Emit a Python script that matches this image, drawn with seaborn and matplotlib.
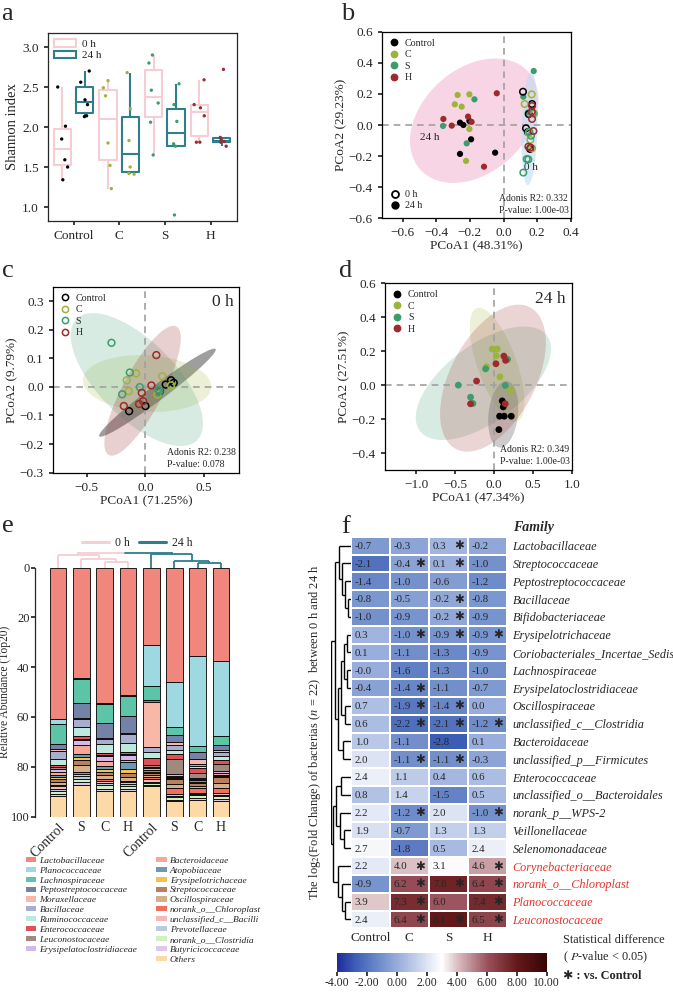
import numpy as np
import pandas as pd
import matplotlib
matplotlib.use("Agg")
import matplotlib.pyplot as plt
import seaborn as sns
from matplotlib.patches import Ellipse, Patch
from matplotlib.lines import Line2D
from matplotlib.colors import LinearSegmentedColormap
from matplotlib.ticker import FormatStrFormatter

groups = ["Control", "C", "S", "H"]
times = ["0 h", "24 h"]
group_colors = {"Control": "#000000", "C": "#9CB43A", "S": "#3C9C6E", "H": "#9E2A2B"}
time_colors = {"0 h": "#F7CDD4", "24 h": "#2E7E8C"}

# --- a: Shannon index (6 samples per group / time)
shannon_0h = {
    "Control": [2.50, 2.01, 1.85, 1.59, 1.50, 1.34],
    "C": [2.58, 2.49, 2.39, 1.80, 1.52, 1.23],
    "S": [2.90, 2.80, 2.46, 2.30, 2.06, 1.65],
    "H": [2.59, 2.28, 2.24, 2.14, 1.81, 1.81],
}
shannon_24h = {
    "Control": [2.70, 2.56, 2.34, 2.28, 2.14, 2.13],
    "C": [2.68, 2.23, 1.83, 1.50, 1.42, 1.41],
    "S": [2.54, 2.28, 2.07, 1.79, 1.76, 0.90],
    "H": [2.72, 1.87, 1.84, 1.82, 1.81, 1.76],
}

# --- b: PCoA of all samples
pcoa_all_0h = {
    "Control": ([0.116, 0.150, 0.170, 0.145, 0.134, 0.158], [0.214, 0.070, 0.135, -0.045, -0.021, -0.154]),
    "C": ([0.168, 0.126, 0.182, 0.160, 0.170, 0.150], [0.197, 0.135, 0.073, -0.096, -0.150, -0.050]),
    "S": ([0.118, 0.138, 0.148, 0.154, 0.164, 0.174], [-0.306, -0.219, -0.221, -0.043, -0.069, 0.075]),
    "H": ([0.170, 0.170, 0.178, 0.168, 0.148, 0.160], [0.122, 0.039, -0.039, 0.086, -0.139, -0.145]),
}
pcoa_all_24h = {
    "Control": ([-0.259, -0.239, -0.203, -0.193, -0.259, -0.050], [0.015, 0.000, 0.026, -0.092, -0.186, -0.178]),
    "C": ([-0.273, -0.203, -0.290, -0.249, -0.203, -0.223], [0.193, 0.197, 0.133, 0.118, -0.026, -0.231]),
    "S": ([-0.173, -0.360, -0.219, 0.180, 0.118, 0.145], [0.165, -0.006, -0.118, 0.347, 0.182, 0.080]),
    "H": ([-0.040, -0.358, -0.308, -0.211, -0.116, -0.190], [0.204, 0.039, -0.004, 0.054, -0.268, 0.020]),
}

# --- c: PCoA 0 h
pcoa_0h = {
    "Control": ([-0.139, 0.000, 0.122, 0.173, 0.218, 0.241], [-0.085, -0.067, -0.015, 0.008, 0.023, 0.014]),
    "C": ([-0.159, -0.142, -0.079, 0.144, 0.102, 0.218], [0.023, -0.015, 0.047, 0.037, -0.027, 0.005]),
    "S": ([-0.289, -0.133, -0.198, -0.048, 0.110, 0.120], [0.154, 0.050, -0.026, -0.001, -0.009, -0.015]),
    "H": ([0.093, 0.051, -0.031, -0.020, -0.054, -0.184], [0.111, 0.005, -0.021, -0.050, -0.060, -0.067]),
}

# --- d: PCoA 24 h
pcoa_24h = {
    "Control": ([0.107, 0.120, 0.073, 0.133, 0.223, 0.064], [-0.093, -0.128, -0.183, -0.183, -0.183, -0.262]),
    "C": ([-0.021, 0.043, 0.030, -0.094, 0.077, 0.214], [0.213, 0.213, 0.173, 0.108, 0.049, -0.033]),
    "S": ([-0.458, -0.107, 0.176, 0.146, -0.300, -0.270], [0.000, 0.096, 0.152, -0.002, -0.071, -0.108]),
    "H": ([0.128, 0.150, 0.026, -0.223, -0.300, 0.146], [0.171, 0.146, 0.126, 0.024, -0.110, -0.110]),
}

# --- e: relative abundance (Top20 families + Others)
families = ["Lactobacillaceae", "Planococcaceae", "Lachnospiraceae", "Peptostreptococcaceae",
            "Moraxellaceae", "Bacillaceae", "Ruminococcaceae", "Enterococcaceae", "Leuconostocaceae",
            "Erysipelatoclostridiaceae", "Bacteroidaceae", "Atopobiaceae", "Erysipelotrichaceae",
            "Streptococcaceae", "Oscillospiraceae", "norank_o__Chloroplast", "unclassified_c__Bacilli",
            "Prevotellaceae", "norank_o__Clostridia", "Butyricicoccaceae", "Others"]
family_colors = ["#F1877C", "#9ED8E0", "#5CC5A7", "#7482A8", "#F7B8A8", "#A9AECF", "#BDE8DC",
                 "#E05058", "#A08A80", "#D4B8E8", "#F5A898", "#6C9AB0", "#F5C050", "#B87F60",
                 "#D4B08A", "#F07060", "#F8B8B8", "#B8CCE0", "#D0F0C0", "#DCC8F0", "#FDD9A8"]
bar_labels = ["Control", "S", "C", "H", "Control", "S", "C", "H"]
abund_control_0h = [60.7, 2.0, 8.2, 2.0, 0.6, 3.4, 2.6, 0.8, 0.7, 1.3, 1.2, 0.8, 0.8, 1.0, 1.2, 0.5, 1.2, 0.6, 1.4, 0.6, 8.4]
abund_s_0h = [44.3, 0.3, 9.6, 6.3, 0.3, 3.2, 3.8, 1.1, 0.5, 1.8, 3.6, 1.3, 1.3, 2.0, 2.8, 0.6, 1.0, 1.0, 1.4, 1.2, 12.6]
abund_c_0h = [54.3, 0.3, 7.8, 6.0, 0.3, 2.1, 3.6, 0.8, 0.4, 2.0, 2.0, 1.2, 1.2, 1.4, 1.6, 0.6, 1.0, 0.8, 1.4, 1.0, 10.2]
abund_h_0h = [51.2, 0.3, 8.3, 6.6, 0.3, 3.6, 3.8, 0.6, 0.4, 2.2, 0.6, 3.2, 1.4, 1.6, 1.6, 0.5, 0.8, 0.6, 1.4, 0.8, 10.2]
abund_control_24h = [31.2, 16.4, 5.4, 0.8, 18.3, 2.0, 2.2, 3.0, 0.8, 0.6, 0.8, 0.5, 0.4, 0.8, 0.8, 0.8, 1.2, 0.4, 0.8, 0.4, 12.4]
abund_s_24h = [46.0, 18.2, 3.2, 2.8, 1.2, 2.0, 1.5, 1.8, 6.4, 0.6, 0.5, 0.5, 0.4, 2.0, 1.5, 2.4, 0.6, 0.4, 1.2, 0.4, 6.4]
abund_c_24h = [35.3, 36.4, 2.4, 2.6, 2.0, 1.0, 0.8, 2.0, 2.0, 0.4, 0.6, 0.6, 0.3, 1.2, 0.8, 2.2, 0.5, 0.4, 1.2, 0.5, 6.8]
abund_h_24h = [37.6, 30.0, 3.8, 2.0, 0.8, 1.4, 1.8, 1.4, 2.8, 0.8, 0.8, 0.6, 0.4, 2.2, 2.0, 2.3, 0.6, 0.4, 1.4, 0.5, 6.4]
# sample clustering (leaf, leaf, merge height)
tree_e_0h = (0, (1, (2, 3, 2.4), 3.4), 5.0)
tree_e_24h = (4, (5, (6, 7, 1.8), 2.6), 5.4)
tree_e_root = 6.0

# --- f: log2 fold change between 0 h and 24 h
fc_families = ["Lactobacillaceae", "Streptococcaceae", "Peptostreptococcaceae", "Bacillaceae",
               "Bifidobacteriaceae", "Erysipelotrichaceae", "Coriobacteriales_Incertae_Sedis",
               "Lachnospiraceae", "Erysipelatoclostridiaceae", "Oscillospiraceae",
               "unclassified_c__Clostridia", "Bacteroidaceae", "unclassified_p__Firmicutes",
               "Enterococcaceae", "unclassified_o__Bacteroidales", "norank_p__WPS-2",
               "Veillonellaceae", "Selenomonadaceae", "Corynebacteriaceae",
               "norank_o__Chloroplast", "Planococcaceae", "Leuconostocaceae"]
fc_control = [-0.7, -2.1, -1.4, -0.8, -1.0, 0.3, 0.1, -0.0, -0.4, 0.7, 0.6, 1.0, 2.0,
              2.4, 0.8, 2.2, 1.9, 2.7, 2.2, -0.9, 3.9, 2.4]
fc_c = [-0.3, -0.4, -1.0, -0.5, -0.9, -1.0, -1.1, -1.6, -1.4, -1.9, -2.2, -1.1, -1.1,
        1.1, 1.4, -1.2, -0.7, -1.8, 4.0, 6.2, 7.3, 6.4]
fc_s = [0.3, 0.1, -0.6, -0.2, -0.2, -0.9, -1.3, -1.3, -1.1, -1.4, -2.1, -2.8, -1.1,
        0.4, -1.5, 2.0, 1.3, 0.5, 3.1, 7.6, 6.0, 8.1]
fc_h = [-0.2, -1.0, -1.2, -0.8, -0.9, -0.9, -0.9, -1.0, -0.7, 0.0, -1.2, 0.1, -0.3,
        0.6, 0.5, -1.0, 1.3, 2.4, 4.6, 6.4, 7.4, 6.5]
sig_c = [0, 1, 0, 0, 0, 1, 0, 0, 1, 1, 1, 0, 1, 0, 0, 1, 0, 0, 1, 1, 1, 1]
sig_s = [1, 1, 0, 1, 1, 1, 0, 0, 0, 1, 1, 0, 1, 0, 0, 0, 0, 0, 0, 1, 0, 1]
sig_h = [0, 0, 0, 0, 0, 1, 0, 0, 0, 0, 1, 0, 0, 0, 0, 1, 0, 0, 1, 1, 1, 1]
n_red = 4
tree_f = (
    ((0, (1, (2, (3, 4, 0.15), 0.3), 0.45), 0.6),
     ((((5, 6, 0.2), (7, 8, 0.2), 0.35), (9, 10, 0.3), 0.5), (11, 12, 0.4), 0.65), 0.8),
    (((13, 14, 0.5), (15, (16, 17, 0.35), 0.55), 0.75), (18, (19, (20, 21, 0.3), 0.45), 0.65), 0.9),
    1.0)


def add_ellipse(ax, x, y, color, alpha, level=0.95):
    # t-based confidence ellipse (like ggplot's stat_ellipse)
    x, y = np.asarray(x), np.asarray(y)
    m = len(x) - 1
    fq = (m / 2) * ((1 - level) ** (-2 / m) - 1)
    k = np.sqrt(2 * fq)
    vals, vecs = np.linalg.eigh(np.cov(x, y))
    vals, vecs = vals[::-1], vecs[:, ::-1]
    ang = np.degrees(np.arctan2(vecs[1, 0], vecs[0, 0]))
    ax.add_patch(Ellipse((x.mean(), y.mean()), 2 * k * np.sqrt(vals[0]), 2 * k * np.sqrt(vals[1]),
                         angle=ang, facecolor=color, edgecolor="none", alpha=alpha, zorder=0))


def tree_segments(node, leaf_pos):
    if isinstance(node, int):
        return leaf_pos(node), 0.0, []
    left, right, h = node
    pl, hl, sl = tree_segments(left, leaf_pos)
    pr, hr, sr = tree_segments(right, leaf_pos)
    segs = sl + sr + [[(pl, hl), (pl, h)], [(pr, hr), (pr, h)], [(pl, h), (pr, h)]]
    return (pl + pr) / 2, h, segs


def to_frame(d):
    rows = []
    for g in groups:
        for x, y in zip(*d[g]):
            rows.append((g, x, y))
    return pd.DataFrame(rows, columns=["group", "x", "y"])


sns.set_theme(style="ticks")
plt.rcParams["font.family"] = ["Liberation Serif", "DejaVu Sans"]
plt.rcParams["mathtext.fontset"] = "stix"
plt.rcParams["font.size"] = 9
plt.rcParams["axes.linewidth"] = 0.9
plt.rcParams["xtick.labelsize"] = 9.5
plt.rcParams["ytick.labelsize"] = 9.5
plt.rcParams["xtick.major.size"] = 3
plt.rcParams["ytick.major.size"] = 3

W, H = 673, 992
fig = plt.figure(figsize=(W / 100, H / 100), dpi=100)


def add_ax(l, t, r, b):
    return fig.add_axes([l / W, 1 - b / H, (r - l) / W, (b - t) / H])


def pcoa_style(ax, xl, yl, xticks, yticks):
    ax.set_xlim(*xl)
    ax.set_ylim(*yl)
    ax.set_xticks(xticks)
    ax.set_yticks(yticks)
    ax.axvline(0, color="#A0A0A0", lw=1.2, ls=(0, (4, 3)), zorder=1)
    ax.axhline(0, color="#A0A0A0", lw=1.2, ls=(0, (4, 3)), zorder=1)
    for s in ax.spines.values():
        s.set_color("black")


def group_legend(ax, filled):
    hs = [Line2D([], [], marker="o", ls="none", markersize=4.5,
                 markerfacecolor=group_colors[g] if filled else "none",
                 markeredgecolor=group_colors[g], markeredgewidth=1.1, label=g) for g in groups]
    return ax.legend(handles=hs, loc="upper left", frameon=False, fontsize=7.2, labelspacing=0.25,
                     handletextpad=0.6, borderaxespad=0.3, handlelength=1.0)


# ================= a =================
rows = []
for t, d in zip(times, [shannon_0h, shannon_24h]):
    for g in groups:
        for v in d[g]:
            rows.append((g, t, v))
df_a = pd.DataFrame(rows, columns=["group", "time", "shannon"])

ax_a = add_ax(48, 33, 237, 221)
sns.boxplot(data=df_a, x="group", y="shannon", hue="time", order=groups, hue_order=times,
            palette=time_colors, fill=False, width=0.98, gap=0.22, linewidth=1.5,
            showfliers=False, showcaps=False, legend=False, ax=ax_a)
np.random.seed(7)
for t, dx in zip(times, (-0.245, 0.245)):
    n0 = len(ax_a.collections)
    sns.stripplot(data=df_a[df_a["time"] == t], x="group", y="shannon", hue="group", order=groups,
                  hue_order=groups, palette=group_colors, jitter=0.12, size=2.4, legend=False, ax=ax_a)
    for coll in ax_a.collections[n0:]:
        coll.set_offsets(coll.get_offsets() + np.array([dx, 0]))
ax_a.set_xlim(-0.56, 3.58)
ax_a.set_ylim(0.825, 3.175)
ax_a.set_yticks([1.0, 1.5, 2.0, 2.5, 3.0])
ax_a.set_xlabel("")
ax_a.set_ylabel("Shannon index", fontsize=10.5, labelpad=2)
ax_a.legend(handles=[Patch(facecolor="white", edgecolor=time_colors[t], linewidth=1.5, label=t) for t in times],
            loc="upper left", frameon=False, fontsize=8, handlelength=2.0, handleheight=0.7,
            borderaxespad=0.15, labelspacing=0.15, handletextpad=0.5)

# ================= b =================
ax_b = add_ax(381.7, 31.7, 570.7, 218.3)
pcoa_style(ax_b, (-0.725, 0.4), (-0.6, 0.6), np.arange(-0.6, 0.41, 0.2), np.arange(-0.6, 0.61, 0.2))
all0 = to_frame(pcoa_all_0h)
all24 = to_frame(pcoa_all_24h)
add_ellipse(ax_b, all24["x"], all24["y"], "#F4B4CE", 0.55)
add_ellipse(ax_b, all0["x"], all0["y"], "#BFDDF0", 0.6)
sns.scatterplot(data=all24, x="x", y="y", hue="group", palette=group_colors, s=20, linewidth=0,
                legend=False, ax=ax_b, zorder=3)
sns.scatterplot(data=all0, x="x", y="y", hue="group", palette=group_colors, s=22, linewidth=1.1,
                legend=False, ax=ax_b, zorder=3)
coll = ax_b.collections[-1]
coll.set_edgecolors(coll.get_facecolors())
coll.set_facecolors("none")
ax_b.set_xlabel("PCoA1 (48.31%)", fontsize=9.5, labelpad=1)
ax_b.set_ylabel("PCoA2 (29.23%)", fontsize=9.5, labelpad=1)
leg = group_legend(ax_b, True)
ax_b.add_artist(leg)
ax_b.legend(handles=[Line2D([], [], marker="o", ls="none", markersize=5, markerfacecolor="none",
                            markeredgecolor="black", markeredgewidth=1.3, label="0 h"),
                     Line2D([], [], marker="o", ls="none", markersize=5, color="black", label="24 h")],
            loc="lower left", frameon=False, fontsize=7.2, labelspacing=0.2, handletextpad=0.5,
            borderaxespad=0.4, handlelength=1.0)
ax_b.text(-0.44, -0.08, "24 h", fontsize=8, ha="center", va="center")
ax_b.text(0.165, -0.275, "0 h", fontsize=8, ha="center", va="center")
ax_b.text(0.62, 0.02, "Adonis R2: 0.332\nP-value: 1.00e-03", transform=ax_b.transAxes,
          fontsize=7, ha="left", va="bottom", linespacing=1.4)

# ================= c =================
ax_c = add_ax(52.7, 286.7, 239.3, 472.7)
pcoa_style(ax_c, (-0.79, 0.8), (-0.3, 0.35), [-0.5, 0.0, 0.5], np.arange(-0.3, 0.31, 0.1))
df_c = to_frame(pcoa_0h)
for g, a in zip(groups, [0.38, 0.2, 0.2, 0.22]):
    add_ellipse(ax_c, *pcoa_0h[g], group_colors[g], a)
sns.scatterplot(data=df_c, x="x", y="y", hue="group", palette=group_colors, s=24, linewidth=1.1,
                legend=False, ax=ax_c, zorder=3)
coll = ax_c.collections[-1]
coll.set_edgecolors(coll.get_facecolors())
coll.set_facecolors("none")
ax_c.set_xlabel("PCoA1 (71.25%)", fontsize=9.5, labelpad=1)
ax_c.set_ylabel("PCoA2 (9.79%)", fontsize=9.5, labelpad=1)
group_legend(ax_c, False)
ax_c.text(0.97, 0.96, "0 h", transform=ax_c.transAxes, fontsize=12.5, ha="right", va="top")
ax_c.text(0.61, 0.02, "Adonis R2: 0.238\nP-value: 0.078", transform=ax_c.transAxes,
          fontsize=7, ha="left", va="bottom", linespacing=1.4)

# ================= d =================
ax_d = add_ax(385, 283.3, 571.7, 470)
pcoa_style(ax_d, (-1.4, 1.0), (-0.5, 0.6), [-1.0, -0.5, 0.0, 0.5, 1.0], np.arange(-0.4, 0.61, 0.2))
df_d = to_frame(pcoa_24h)
for g, a in zip(groups, [0.2, 0.2, 0.2, 0.2]):
    add_ellipse(ax_d, *pcoa_24h[g], group_colors[g], a)
sns.scatterplot(data=df_d, x="x", y="y", hue="group", palette=group_colors, s=24, linewidth=0,
                legend=False, ax=ax_d, zorder=3)
ax_d.set_xlabel("PCoA1 (47.34%)", fontsize=9.5, labelpad=1)
ax_d.set_ylabel("PCoA2 (27.51%)", fontsize=9.5, labelpad=1)
group_legend(ax_d, True)
ax_d.text(0.97, 0.96, "24 h", transform=ax_d.transAxes, fontsize=12.5, ha="right", va="top")
ax_d.text(0.615, 0.02, "Adonis R2: 0.349\nP-value: 1.00e-03", transform=ax_d.transAxes,
          fontsize=7, ha="left", va="bottom", linespacing=1.4)

# ================= e =================
ax_e = add_ax(35, 567.7, 232, 816.5)
bars = [abund_control_0h, abund_s_0h, abund_c_0h, abund_h_0h,
        abund_control_24h, abund_s_24h, abund_c_24h, abund_h_24h]
df_e = pd.DataFrame(np.array(bars), columns=families)
bottom = np.zeros(len(df_e))
xpos = np.arange(len(df_e))
for fam_name, col in zip(families, family_colors):
    ax_e.bar(xpos, df_e[fam_name], bottom=bottom, width=0.72, color=col, edgecolor="black", linewidth=0.6)
    bottom += df_e[fam_name].values
ax_e.set_xlim(-0.99, 7.47)
ax_e.set_ylim(100, 0)
ax_e.set_yticks(np.arange(0, 101, 20))
ax_e.tick_params(axis="y", labelsize=9, pad=1)
ax_e.set_ylabel("Relative Abundance (Top20)", fontsize=8.3)
ax_e.yaxis.set_label_coords(-0.122, 0.5)
for s in ["top", "right", "bottom"]:
    ax_e.spines[s].set_visible(False)
ax_e.tick_params(axis="x", length=0, pad=3, labelsize=10)
ax_e.set_xticks(xpos)
ax_e.set_xticklabels(bar_labels)
for lab in ax_e.get_xticklabels():
    if lab.get_text() == "Control":
        lab.set_rotation(45)
        lab.set_ha("right")
        lab.set_va("top")
        lab.set_rotation_mode("anchor")
# sample dendrogram
for tree, col in [(tree_e_0h, time_colors["0 h"]), (tree_e_24h, time_colors["24 h"])]:
    top, h, segs = tree_segments(tree, float)
    for (p0, h0), (p1, h1) in segs:
        ax_e.plot([p0, p1], [-h0, -h1], color=col, lw=1.3, clip_on=False, solid_capstyle="butt")
    ax_e.plot([top, top], [-h, -tree_e_root], color=col, lw=1.3, clip_on=False)
p0 = tree_segments(tree_e_0h, float)[0]
p1 = tree_segments(tree_e_24h, float)[0]
ax_e.plot([p0, (p0 + p1) / 2], [-tree_e_root] * 2, color=time_colors["0 h"], lw=1.3, clip_on=False)
ax_e.plot([(p0 + p1) / 2, p1], [-tree_e_root] * 2, color=time_colors["24 h"], lw=1.3, clip_on=False)
ax_e.legend(handles=[Line2D([], [], color=time_colors[t], lw=2.2, label=t) for t in times],
            loc="center", bbox_to_anchor=(0.52, 1.1), ncol=2, frameon=False, fontsize=8.5,
            handlelength=2.3, columnspacing=0.8, handletextpad=0.5)
# family legend, 10 + 11 rows
fam_handles = [Patch(facecolor=c, edgecolor="none") for c in family_colors]
hs = fam_handles[:10] + [Patch(facecolor="none", edgecolor="none")] + fam_handles[10:]
ls = families[:10] + [""] + families[10:]
fig.legend(hs, ls, loc="upper left", bbox_to_anchor=(22 / W, 1 - 853 / H), ncol=2, frameon=False,
           prop={"style": "italic", "size": 6.8}, handlelength=1.1, handleheight=0.45,
           handletextpad=0.35, labelspacing=0.2, columnspacing=2.0, borderaxespad=0)

# ================= f =================
cmap = LinearSegmentedColormap.from_list("fc", [
    (0.0, "#1E2D99"), (0.09, "#3F60B8"), (0.21, "#7390CC"), (0.31, "#A3B6E0"),
    (0.5, "#FFFFFF"), (0.57, "#DCC2C6"), (0.72, "#99505A"), (0.86, "#641819"), (1.0, "#380505")])
df_f = pd.DataFrame({"Control": fc_control, "C": fc_c, "S": fc_s, "H": fc_h}, index=fc_families)
sig = pd.DataFrame({"Control": [0] * len(fc_families), "C": sig_c, "S": sig_s, "H": sig_h}, index=fc_families)

ax_f = add_ax(350.7, 536.7, 507, 928.3)
ax_cb = add_ax(337.3, 953, 546.7, 971.7)
sns.heatmap(df_f, cmap=cmap, vmin=-4, vmax=10, linewidths=1.2, linecolor="white", ax=ax_f,
            cbar_ax=ax_cb, cbar_kws={"orientation": "horizontal", "ticks": np.arange(-4, 11, 2)})
for i in range(len(fc_families)):
    for j, g in enumerate(groups):
        ax_f.text(j + 0.1, i + 0.55, f"{df_f.iloc[i, j]:.1f}", ha="left", va="center", fontsize=7.8)
        if sig.iloc[i, j]:
            ax_f.text(j + 0.64, i + 0.5, "\u2731", ha="left", va="center", fontsize=8.5,
                      family=["DejaVu Sans"])
ax_f.yaxis.tick_right()
ax_f.set_yticks(np.arange(len(fc_families)) + 0.5)
ax_f.set_yticklabels(fc_families, rotation=0, fontstyle="italic", fontsize=8.8, ha="left")
for k, lab in enumerate(ax_f.get_yticklabels()):
    if k >= len(fc_families) - n_red:
        lab.set_color("#E5332A")
ax_f.tick_params(axis="y", length=0, pad=4)
ax_f.tick_params(axis="x", length=0, pad=3, labelsize=9.5)
ax_f.set_xticklabels(groups, rotation=0)
ax_f.set_xlabel("")
ax_f.set_ylabel("")
cbar = ax_f.collections[0].colorbar
cbar.ax.xaxis.set_major_formatter(FormatStrFormatter("%.2f"))
cbar.ax.tick_params(labelsize=8.5, length=3, pad=1)

# family dendrogram
ax_t = add_ax(331, 536.7, 350.7, 928.3)
_, _, segs = tree_segments(tree_f, lambda k: k + 0.5)
for (p0, h0), (p1, h1) in segs:
    ax_t.plot([h0, h1], [p0, p1], color="black", lw=1.0, solid_capstyle="butt")
ax_t.set_ylim(len(fc_families), 0)
ax_t.set_xlim(1.02, 0)
ax_t.axis("off")

fig.text(512.7 / W, 1 - 527 / H, "Family", fontsize=10, fontweight="bold", fontstyle="italic",
         ha="left", va="center")
fig.text(315 / W, 1 - 732 / H, "The log$_2$(Fold Change) of bacterias ($\\it{n}$ = 22)  between 0 h and 24 h",
         rotation=90, fontsize=9, ha="center", va="center")
fig.text(563 / W, 1 - 940 / H, "Statistical difference", fontsize=8.8, ha="left", va="center")
fig.text(563 / W, 1 - 957 / H, "( $\\it{P}$-value < 0.05)", fontsize=8.8, ha="left", va="center")
fig.text(563 / W, 1 - 976 / H, "\u2731 : vs. Control", fontsize=8.8, fontweight="bold", ha="left", va="center")

# panel letters
for letter, x, y in [("a", 1, 20), ("b", 341, 20), ("c", 2, 277), ("d", 339, 277), ("e", 2, 532), ("f", 341, 533)]:
    fig.text(x / W, 1 - y / H, letter, fontsize=19, ha="left", va="baseline")

fig.savefig("out.png", dpi=100)
